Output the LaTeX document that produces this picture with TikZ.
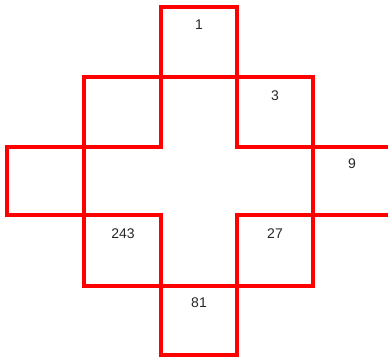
\documentclass[tikz,border=0pt]{standalone}
\usepackage{fontspec}
\setmainfont{Liberation Sans}
\begin{document}
\begin{tikzpicture}[x=1pt,y=-1pt,
  edge/.style={draw=red,line width=3.5pt,line join=miter,line cap=rect},
  num/.style={font=\fontsize{14}{16}\selectfont,text=black!85,inner sep=0pt}]
\useasboundingbox (0,0) rectangle (388,360);
% big square
\draw[edge] (84,77) rectangle (313,286);
% top and bottom vertical strips
\draw[edge] (161,147) -- (161,7) -- (237,7) -- (237,147);
\draw[edge] (161,215) -- (161,355) -- (237,355) -- (237,215);
% left and right horizontal strips
\draw[edge] (161,147) -- (7,147) -- (7,215) -- (161,215);
\draw[edge] (237,147) -- (390,147);
\draw[edge] (237,215) -- (390,215);
% labels
\node[num] (n1) at (199,25) {1};
\node[num] (n3) at (275,96) {3};
\node[num] (n9) at (352,164) {9};
\node[num] (n243) at (123,234) {243};
\node[num] (n27) at (275,234) {27};
\node[num] (n81) at (199,303) {81};
\end{tikzpicture}
\end{document}
